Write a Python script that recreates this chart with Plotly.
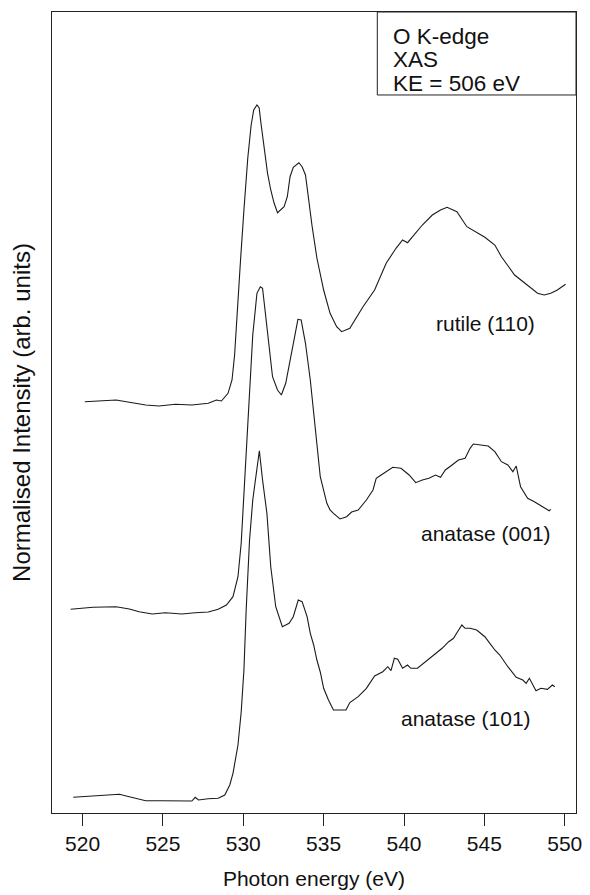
import plotly.graph_objects as go

# O K-edge XAS spectra, photon energy (eV) vs normalised intensity (stacked, arb. units)
rutile_110_energy = [
    520.14, 521.06, 522.09, 522.91, 523.93, 524.75, 525.78, 526.80, 527.82, 528.33,
    528.64, 529.05, 529.30, 529.46, 529.62, 529.83, 530.04, 530.28, 530.49, 530.65,
    530.85, 530.99, 531.10, 531.31, 531.51, 531.71, 531.92, 532.13, 532.54, 532.74,
    532.91, 533.11, 533.46, 533.66, 533.87, 534.28, 534.58, 535.00, 535.40, 535.81,
    536.12, 536.63, 537.45, 538.17, 538.89, 539.50, 539.91, 540.22, 540.73, 541.14,
    541.76, 542.27, 542.68, 543.29, 543.91, 544.42, 545.03, 545.65, 546.06, 546.88,
    547.69, 548.31, 548.72, 549.13, 549.54, 550.05,
]
rutile_110_intensity = [
    4.113, 4.123, 4.130, 4.107, 4.080, 4.070, 4.087, 4.080, 4.097, 4.130,
    4.120, 4.197, 4.330, 4.580, 5.030, 5.530, 6.030, 6.550, 6.880, 7.030,
    7.080, 7.050, 6.897, 6.630, 6.397, 6.230, 6.097, 6.003, 6.063, 6.163,
    6.363, 6.457, 6.503, 6.463, 6.380, 5.870, 5.550, 5.230, 4.997, 4.863,
    4.813, 4.847, 5.063, 5.230, 5.497, 5.647, 5.730, 5.703, 5.797, 5.880,
    5.980, 6.030, 6.057, 6.013, 5.863, 5.813, 5.757, 5.680, 5.563, 5.380,
    5.280, 5.197, 5.180, 5.197, 5.230, 5.287,
]

anatase_001_energy = [
    519.26, 519.83, 520.65, 522.09, 522.91, 523.52, 524.34, 525.16, 526.18, 527.01,
    527.82, 528.44, 528.95, 529.36, 529.67, 529.87, 530.08, 530.22, 530.34, 530.59,
    530.85, 531.06, 531.20, 531.51, 531.82, 532.13, 532.37, 532.64, 532.94, 533.25,
    533.40, 533.60, 533.87, 534.17, 534.48, 534.79, 535.20, 535.40, 535.61, 536.02,
    536.43, 536.74, 537.15, 537.66, 538.07, 538.27, 538.58, 538.89, 539.30, 539.81,
    540.32, 540.73, 541.14, 541.55, 541.96, 542.27, 542.57, 542.99, 543.39, 543.80,
    544.11, 544.31, 544.83, 545.24, 545.65, 546.06, 546.46, 546.77, 546.98, 547.25,
    547.69, 548.11, 548.62, 549.03, 549.13,
]
anatase_001_intensity = [
    2.037, 2.047, 2.057, 2.063, 2.040, 2.013, 1.990, 2.003, 1.990, 2.003,
    2.010, 2.037, 2.080, 2.163, 2.363, 2.697, 3.297, 3.797, 4.130, 4.780,
    5.197, 5.263, 5.247, 4.797, 4.363, 4.230, 4.180, 4.297, 4.563, 4.830,
    4.937, 4.930, 4.697, 4.330, 3.810, 3.363, 3.097, 3.030, 2.997, 2.940,
    2.963, 3.010, 3.030, 3.130, 3.230, 3.347, 3.380, 3.413, 3.457, 3.447,
    3.380, 3.303, 3.330, 3.347, 3.380, 3.357, 3.430, 3.480, 3.530, 3.547,
    3.647, 3.690, 3.680, 3.670, 3.613, 3.513, 3.480, 3.413, 3.470, 3.263,
    3.147, 3.113, 3.063, 3.023, 3.037,
]

anatase_101_energy = [
    519.42, 520.04, 521.06, 522.29, 522.91, 523.93, 524.95, 526.18, 526.80, 527.01,
    527.21, 527.82, 528.44, 528.85, 529.16, 529.36, 529.48, 529.67, 529.87, 530.04,
    530.18, 530.39, 530.59, 530.79, 531.00, 531.20, 531.47, 531.71, 532.02, 532.43,
    532.85, 533.11, 533.42, 533.66, 533.97, 534.17, 534.38, 534.58, 534.79, 535.00,
    535.30, 535.61, 536.02, 536.39, 536.63, 537.15, 537.66, 538.17, 538.68, 538.99,
    539.19, 539.40, 539.61, 539.91, 540.22, 540.42, 540.84, 541.24, 541.76, 542.37,
    542.78, 543.08, 543.33, 543.60, 543.80, 544.11, 544.52, 545.03, 545.34, 545.65,
    545.96, 546.46, 546.98, 547.39, 547.60, 547.80, 548.21, 548.52, 548.92, 549.23,
    549.38,
]
anatase_101_intensity = [
    0.157, 0.163, 0.170, 0.187, 0.163, 0.123, 0.123, 0.123, 0.120, 0.157,
    0.130, 0.143, 0.147, 0.180, 0.280, 0.397, 0.510, 0.680, 1.010, 1.430,
    2.030, 2.730, 3.130, 3.397, 3.623, 3.330, 2.997, 2.463, 2.063, 1.863,
    1.897, 1.963, 2.130, 2.113, 1.963, 1.797, 1.680, 1.530, 1.410, 1.247,
    1.130, 1.030, 1.030, 1.030, 1.105, 1.163, 1.247, 1.370, 1.413, 1.463,
    1.423, 1.547, 1.537, 1.447, 1.480, 1.447, 1.447, 1.497, 1.563, 1.647,
    1.713, 1.747, 1.813, 1.880, 1.847, 1.847, 1.830, 1.763, 1.697, 1.630,
    1.580, 1.463, 1.357, 1.330, 1.297, 1.347, 1.223, 1.247, 1.237, 1.280,
    1.263,
]

x_ticks = [520, 525, 530, 535, 540, 545, 550]
box_lines = ["O K-edge", "XAS", "KE = 506 eV"]

FONT = "Liberation Sans, Arial, Helvetica, sans-serif"
INK = "#111111"

fig = go.Figure()
for energy, intensity in [
    (rutile_110_energy, rutile_110_intensity),
    (anatase_001_energy, anatase_001_intensity),
    (anatase_101_energy, anatase_101_intensity),
]:
    fig.add_trace(go.Scatter(
        x=energy, y=intensity, mode="lines",
        line=dict(color="#1a1a1a", width=1.1),
        showlegend=False, hoverinfo="x+y",
    ))

# Sample labels next to each spectrum
for text, xe, yi in [
    ("rutile (110)", 545.06, 4.90),
    ("anatase (001)", 545.08, 2.80),
    ("anatase (101)", 543.85, 0.95),
]:
    fig.add_annotation(x=xe, y=yi, xref="x", yref="y", text=text, showarrow=False,
                       font=dict(family=FONT, size=21, color=INK),
                       xanchor="center", yanchor="middle")

# Boxed legend text in the top-right corner
fig.add_shape(type="rect", xref="paper", yref="paper",
              x0=0.6208, x1=1.0, y0=0.8964, y1=1.0,
              line=dict(color="#222222", width=1), fillcolor="white", layer="below")
for i, line in enumerate(box_lines):
    fig.add_annotation(x=0.647, y=0.9692 - i * 0.0291, xref="paper", yref="paper",
                       text=line, showarrow=False,
                       font=dict(family=FONT, size=22.5, color=INK),
                       xanchor="left", yanchor="middle")

fig.update_layout(
    width=590, height=895,
    margin=dict(l=52, r=8, t=12, b=82),
    paper_bgcolor="white", plot_bgcolor="white",
    font=dict(family=FONT, size=21, color=INK),
    xaxis=dict(
        range=[518.1, 550.7], tickvals=x_ticks, ticks="outside", ticklen=12,
        tickwidth=1, tickcolor="#222222",
        showline=True, mirror=True, linecolor="#222222", linewidth=1,
        showgrid=False, zeroline=False,
        tickfont=dict(family=FONT, size=21, color=INK),
        title=dict(text="Photon energy (eV)", font=dict(family=FONT, size=21, color=INK),
                   standoff=17),
    ),
    yaxis=dict(
        range=[0, 8.01], showticklabels=False, ticks="",
        showline=True, mirror=True, linecolor="#222222", linewidth=1,
        showgrid=False, zeroline=False,
        title=dict(text="Normalised Intensity (arb. units)",
                   font=dict(family=FONT, size=24, color=INK), standoff=13),
    ),
)

fig.write_html("out.html")
